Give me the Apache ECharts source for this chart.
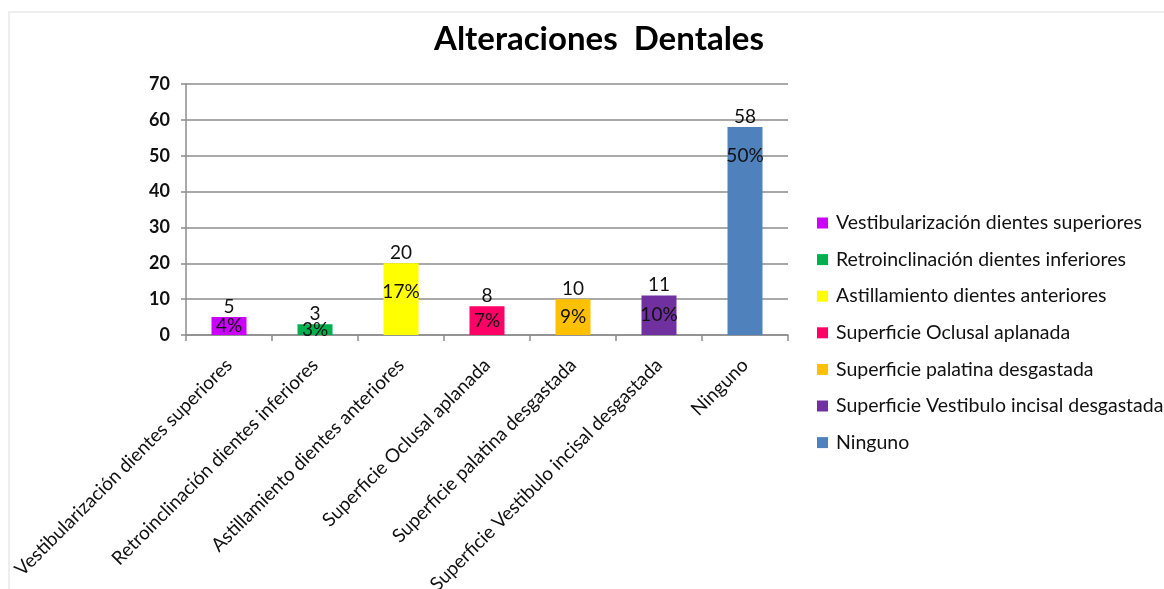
<!DOCTYPE html>
<html>
<head>
<meta charset="utf-8">
<title>Alteraciones Dentales</title>
<script src="https://cdn.jsdelivr.net/npm/echarts@6/dist/echarts.min.js"></script>
<style>
  html, body { margin: 0; padding: 0; background: #fff; }
  #chart { width: 1164px; height: 589px; }
</style>
</head>
<body>
<div id="chart"></div>
<script>
// Alteraciones dentales observadas (casos por tipo)
const categories = [
  'Vestibularización dientes superiores',
  'Retroinclinación dientes inferiores',
  'Astillamiento dientes anteriores',
  'Superficie Oclusal aplanada',
  'Superficie palatina desgastada',
  'Superficie Vestibulo incisal desgastada',
  'Ninguno'
];
const casos = [5, 3, 20, 8, 10, 11, 58];
const yTicks = [0, 10, 20, 30, 40, 50, 60, 70];
const palette = ['#CC00FF', '#00B050', '#FFFF00', '#FF0066', '#FFC000', '#7030A0', '#4F81BD'];

const total = casos.reduce((a, b) => a + b, 0);
const FONT = 'Lato, "Open Sans", sans-serif';

const series = categories.map((name, i) => ({
  name: name,
  type: 'bar',
  barWidth: 35,
  barGap: '-100%',
  data: categories.map((_, j) => (j === i ? casos[i] : '-')),
  itemStyle: { color: palette[i] },
  label: {
    show: true,
    position: 'top',
    distance: 1,
    color: '#111',
    fontFamily: FONT,
    fontSize: 19,
    formatter: p => String(p.value)
  },
  // porcentaje sobre el total, dentro de la barra
  markPoint: {
    symbol: 'rect',
    symbolSize: 0,
    silent: true,
    data: [{
      coord: [i, Math.max(casos[i] / 2, casos[i] - 8)],
      value: Math.round(casos[i] / total * 100)
    }],
    label: {
      show: true,
      position: 'inside',
      color: '#111',
      fontFamily: FONT,
      fontSize: 19,
      formatter: p => p.value + '%'
    }
  }
}));

const chart = echarts.init(document.getElementById('chart'), null, { renderer: 'canvas' });
chart.setOption({
  backgroundColor: '#fff',
  animation: false,
  title: {
    text: 'Alteraciones  Dentales',
    left: 594,
    top: 18,
    textAlign: 'center',
    textStyle: { fontFamily: FONT, fontWeight: 'bold', fontSize: 33, color: '#000' }
  },
  graphic: [
    { type: 'line', shape: { x1: 8, y1: 12, x2: 1164, y2: 12 }, style: { stroke: '#eeeeee', lineWidth: 2 }, silent: true },
    { type: 'line', shape: { x1: 9, y1: 12, x2: 9, y2: 589 }, style: { stroke: '#eeeeee', lineWidth: 2 }, silent: true }
  ],
  legend: {
    orient: 'vertical',
    left: 812,
    top: 208,
    itemWidth: 11,
    itemHeight: 11,
    itemGap: 16.6,
    icon: 'rect',
    data: categories,
    textStyle: { fontFamily: FONT, fontSize: 19.5, color: '#111', lineHeight: 20, padding: [0, 0, 0, 3] }
  },
  grid: { left: 186, right: 376, top: 84, bottom: 254, containLabel: false, outerBoundsMode: 'none' },
  xAxis: {
    type: 'category',
    data: categories,
    axisLine: { lineStyle: { color: '#8c8c8c', width: 1.5 } },
    axisTick: { show: true, alignWithLabel: false, length: 6, lineStyle: { color: '#8c8c8c', width: 1.5 } },
    axisLabel: {
      rotate: 45,
      interval: 0,
      margin: 27,
      color: '#111',
      fontFamily: FONT,
      fontSize: 19
    }
  },
  yAxis: {
    type: 'value',
    min: yTicks[0],
    max: yTicks[yTicks.length - 1],
    interval: yTicks[1] - yTicks[0],
    axisLine: { show: true, lineStyle: { color: '#8c8c8c', width: 1.5 } },
    axisTick: { show: true, length: 5, lineStyle: { color: '#8c8c8c', width: 1.5 } },
    splitLine: { lineStyle: { color: '#8c8c8c', width: 1.5 } },
    axisLabel: {
      margin: 16,
      color: '#111',
      fontFamily: FONT,
      fontWeight: 'bold',
      fontSize: 18
    }
  },
  series: series
});
</script>
</body>
</html>
